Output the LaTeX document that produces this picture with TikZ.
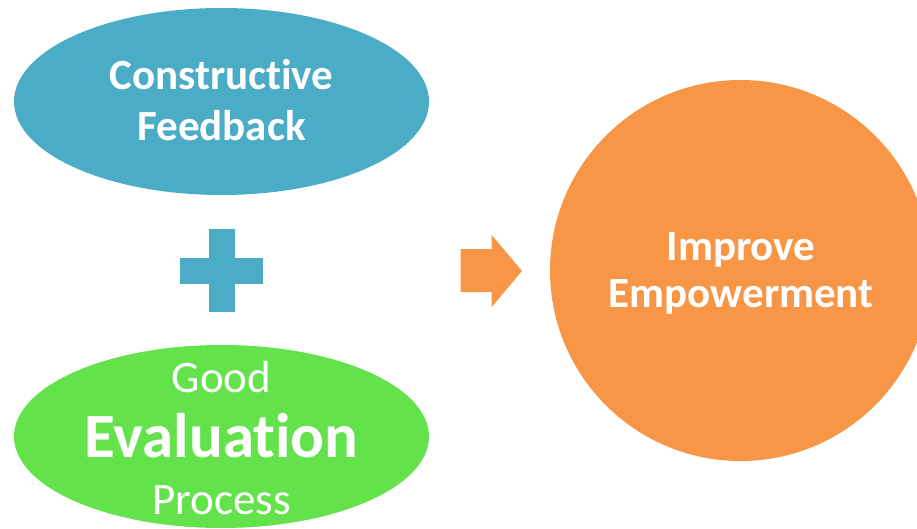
\documentclass[tikz,border=0pt]{standalone}
\usepackage{fontspec}
\setmainfont{Carlito}[Ligatures=NoCommon]
\usetikzlibrary{shapes.geometric}
\definecolor{aqua}{HTML}{4BACC6}
\definecolor{lgreen}{HTML}{63E24B}
\definecolor{orng}{HTML}{F79646}
\tikzset{
  blob/.style={ellipse, inner sep=0pt, minimum width=415pt, minimum height=187pt, draw=none},
  disc/.style={circle, inner sep=0pt, minimum size=381pt, fill=orng, draw=none},
  txt/.style={anchor=base, text=white, inner sep=0pt},
  big/.style={font=\bfseries\fontsize{43}{43}\selectfont},
  reg/.style={font=\fontsize{45}{45}\selectfont},
  huge/.style={font=\bfseries\fontsize{63}{63}\selectfont},
}
\begin{document}
\begin{tikzpicture}[x=1pt,y=-1pt]
\useasboundingbox (0,0) rectangle (917,529);
\clip (0,0) rectangle (917,529);
% top ellipse
\node[blob, fill=aqua] (cf) at (221.5,101.5) {};
\node[txt, big] (cf1) at (221.5,90) {Constructive};
\node[txt, big] (cf2) at (221.5,140.7) {Feedback};
% plus sign
\coordinate (pc) at (221.5,270.7);
\fill[aqua] ([xshift=-13pt,yshift=41.5pt]pc) rectangle ([xshift=13pt,yshift=-41.5pt]pc);
\fill[aqua] ([xshift=-41.5pt,yshift=13pt]pc) rectangle ([xshift=41.5pt,yshift=-13pt]pc);
% bottom ellipse
\node[blob, fill=lgreen, minimum height=183pt] (ge) at (221.5,436.5) {};
\node[txt, reg] (ge1) at (221.5,392.3) {Good};
\node[txt, huge] (ge2) at (221.5,457) {Evaluation};
\node[txt, reg] (ge3) at (221.5,514) {Process};
% arrow
\fill[orng] (460.7,249) -- (491.7,249) -- (491.7,235) -- (522,271) -- (491.7,307) -- (491.7,292) -- (460.7,292) -- cycle;
% circle
\node[disc] (ie) at (740.5,270.5) {};
\node[txt, big] (ie1) at (741,260) {Improve};
\node[txt, big] (ie2) at (741,307.3) {Empowerment};
\end{tikzpicture}
\end{document}
